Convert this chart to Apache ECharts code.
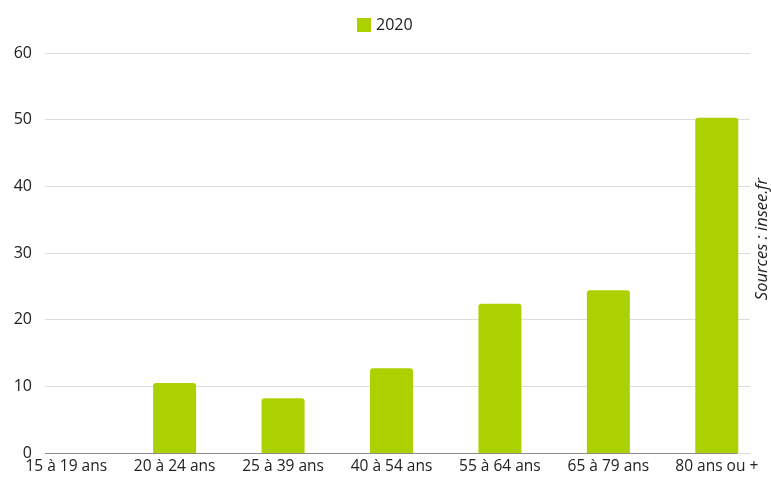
<!DOCTYPE html>
<html>
<head>
<meta charset="utf-8">
<script src="https://cdn.jsdelivr.net/npm/echarts@6/dist/echarts.min.js"></script>
<style>html,body{margin:0;padding:0;background:#fff;}#c{width:771px;height:477px;}</style>
</head>
<body>
<div id="c"></div>
<script>
var categories = ['15 à 19 ans','20 à 24 ans','25 à 39 ans','40 à 54 ans','55 à 64 ans','65 à 79 ans','80 ans ou +'];
var values2020 = [0, 10.5, 8.2, 12.7, 22.4, 24.4, 50.3];
var yTicks = [0, 10, 20, 30, 40, 50, 60];
var seriesName = '2020';
var sourceText = 'Sources : insee.fr';

var font = 'Open Sans';
var chart = echarts.init(document.getElementById('c'));
chart.setOption({
  animation: false,
  legend: {
    top: 12, left: 352,
    itemWidth: 14, itemHeight: 14, icon: 'rect', itemGap: 10,
    textStyle: {fontFamily: font, fontSize: 16, color: '#222'},
    data: [seriesName]
  },
  grid: [
    {left: 12, right: 0, top: 53, bottom: 24},
    {left: 45, right: 21, top: 53, bottom: 24}
  ],
  xAxis: [
    {gridIndex: 0, type: 'category', data: categories,
     axisLine: {show: false}, axisTick: {show: false},
     axisLabel: {fontFamily: font, fontSize: 15.5, color: '#222', margin: 6, interval: 0}},
    {gridIndex: 1, type: 'value', min: 0, max: 1, show: true,
     axisLine: {show: false}, axisTick: {show: false}, axisLabel: {show: false}, splitLine: {show: false}}
  ],
  yAxis: [
    {gridIndex: 0, type: 'value', min: 0, max: 60, interval: 10, show: false},
    {gridIndex: 1, type: 'value', min: yTicks[0], max: yTicks[yTicks.length-1], interval: 10,
     axisLine: {show: false}, axisTick: {show: false},
     axisLabel: {fontFamily: font, fontSize: 16, color: '#222', margin: 13},
     splitLine: {lineStyle: {color: '#dcdcdc', width: 1}}}
  ],
  series: [
    {name: seriesName, type: 'bar', xAxisIndex: 0, yAxisIndex: 0, data: values2020,
     barWidth: 43, z: 3,
     itemStyle: {color: '#abd200', borderRadius: [3,3,0,0]}},
    {type: 'line', xAxisIndex: 1, yAxisIndex: 1, data: [], silent: true,
     markLine: {silent: true, symbol: 'none', label: {show: false},
       lineStyle: {color: '#8c8c8c', width: 1.2, type: 'solid'},
       data: [[{coord: [0, 0]}, {coord: [0.982, 0]}]]}}
  ],
  graphic: [
    {type: 'text', left: 754, top: 178, rotation: Math.PI/2,
     style: {text: sourceText, fontFamily: font, fontStyle: 'italic', fontSize: 16.5, fill: '#222'}}
  ]
});
</script>
</body>
</html>
